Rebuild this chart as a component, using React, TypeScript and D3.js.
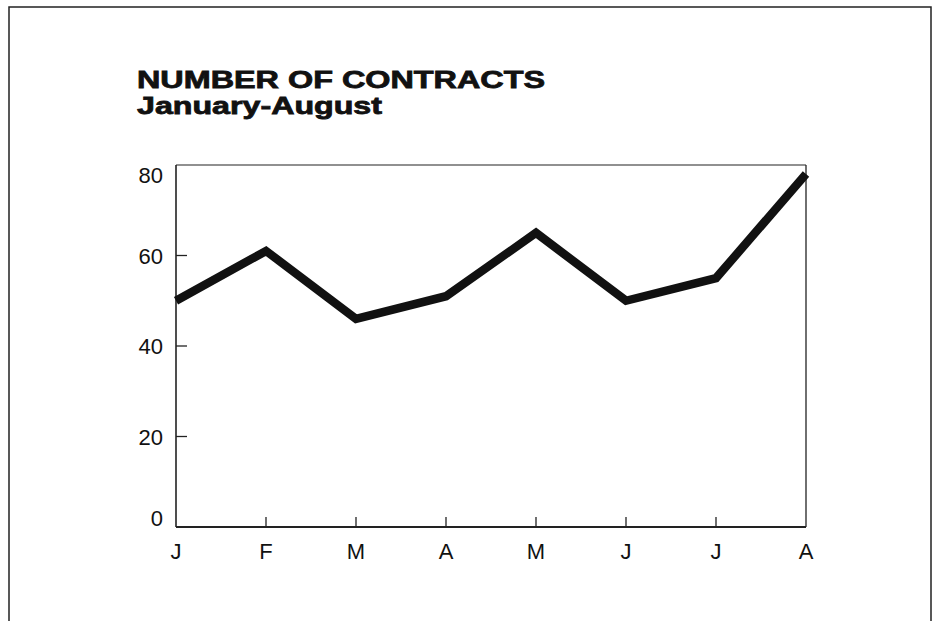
import React from "react";
import * as d3 from "d3";

const months = ["J", "F", "M", "A", "M", "J", "J", "A"];
const contracts = [50, 61, 46, 51, 65, 50, 55, 78];
const yTicks = [0, 20, 40, 60, 80];
const titleLines = ["NUMBER OF CONTRACTS", "January-August"];

export default function App() {
  const W = 937, H = 621;
  const left = 176, right = 806, top = 165, bottom = 527;
  const x = d3.scalePoint<number>().domain(d3.range(months.length)).range([left, right]);
  const y = d3.scaleLinear().domain([0, 80]).range([bottom, top]);
  const line = d3.line<number>().x((_, i) => x(i)!).y((d) => y(d));
  const font = "'Liberation Sans', Arial, Helvetica, sans-serif";
  const labelBaseline = (t: number) => (t === 80 ? y(t) + 18 : t === 0 ? y(t) - 1 : y(t) + 8);
  return (
    <svg width={W} height={H} style={{ position: "absolute", left: 0, top: 0, background: "#fff" }}>
      {/* outer frame */}
      <path d={`M9,${H} L9,7 L931,7 L931,${H}`} fill="none" stroke="#222" strokeWidth={1.5} />
      {/* title */}
      <text x={137} y={88} fontFamily={font} fontWeight={900} fontSize={24} fill="#111"
        stroke="#111" strokeWidth={0.8} textLength={408} lengthAdjust="spacingAndGlyphs">{titleLines[0]}</text>
      <text x={137} y={114} fontFamily={font} fontWeight={900} fontSize={24} fill="#111"
        stroke="#111" strokeWidth={0.8} textLength={245} lengthAdjust="spacingAndGlyphs">{titleLines[1]}</text>
      {/* plot box */}
      <line x1={left} x2={right} y1={top} y2={top} stroke="#222" strokeWidth={1.2} />
      <line x1={right} x2={right} y1={top} y2={bottom} stroke="#222" strokeWidth={1.3} />
      <line x1={left} x2={left} y1={top} y2={bottom} stroke="#222" strokeWidth={1.6} />
      <line x1={left} x2={right} y1={bottom} y2={bottom} stroke="#222" strokeWidth={2} />
      {/* y ticks */}
      {yTicks.map((t) => (
        <g key={t}>
          {t > 0 && t < 80 && (
            <line x1={left} x2={left + 11} y1={y(t)} y2={y(t)} stroke="#222" strokeWidth={1.3} />
          )}
          <text x={163} y={labelBaseline(t)} textAnchor="end" fontFamily={font} fontSize={22} fill="#111">{t}</text>
        </g>
      ))}
      {/* x ticks */}
      {months.map((m, i) => (
        <g key={i}>
          {i > 0 && i < months.length - 1 && (
            <line x1={x(i)!} x2={x(i)!} y1={bottom} y2={bottom - 10} stroke="#222" strokeWidth={1.3} />
          )}
          <text x={x(i)!} y={559} textAnchor="middle" fontFamily={font} fontSize={22} fill="#111">{m}</text>
        </g>
      ))}
      {/* data line */}
      <path d={line(contracts) || ""} fill="none" stroke="#111" strokeWidth={8.5} strokeLinejoin="miter" />
    </svg>
  );
}
